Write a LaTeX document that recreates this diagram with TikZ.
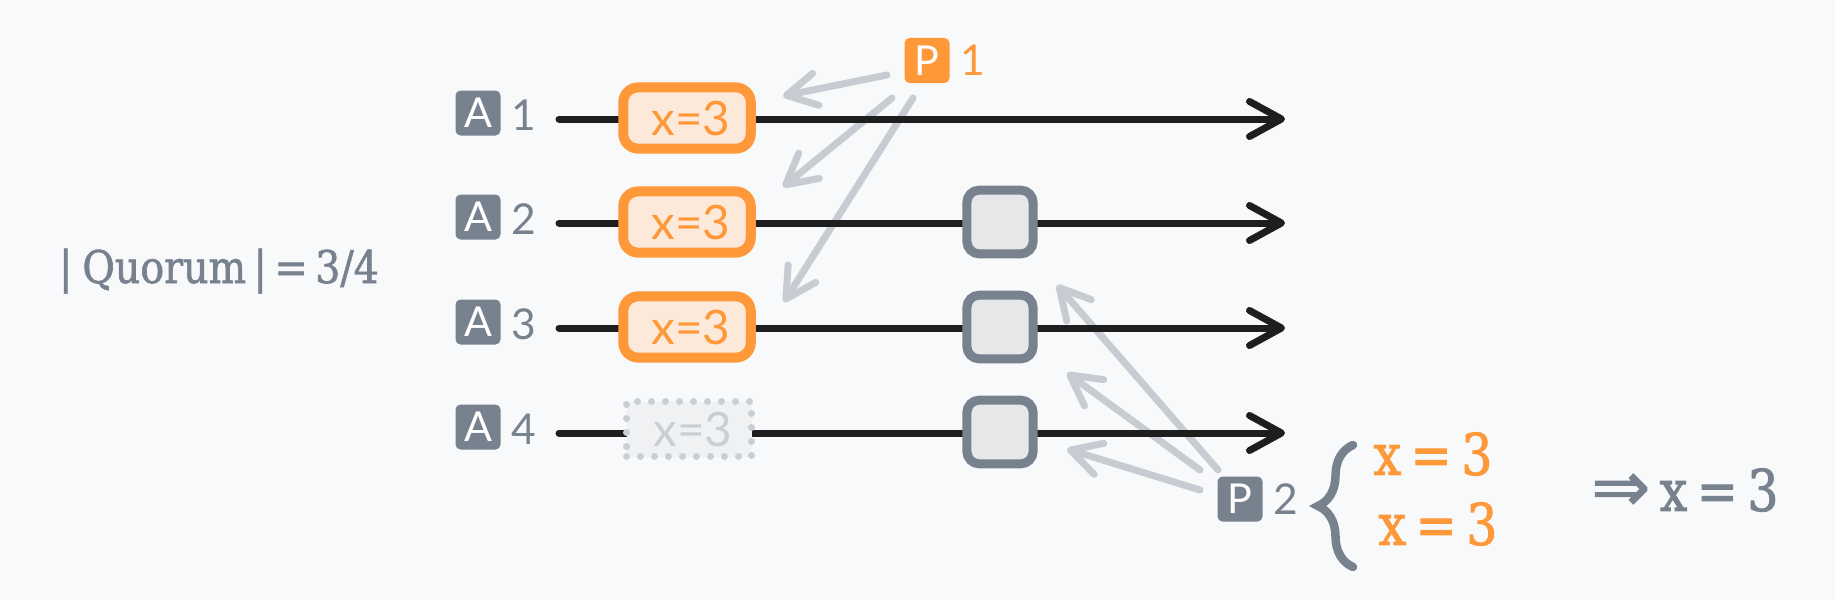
\documentclass[tikz,border=0pt]{standalone}
\usepackage{fontspec}
\setmainfont{Lato}
\newfontfamily\slabfont{DejaVu Serif}[FakeStretch=0.85,FakeBold=1.6]
\newfontfamily\quorumfont{DejaVu Serif}[FakeStretch=0.88,FakeBold=1.4]
\newfontfamily\symfont{DejaVu Sans}[FakeBold=1.6]
\usetikzlibrary{arrows.meta,positioning,decorations.pathreplacing}

\definecolor{bg}{HTML}{F8F9FA}
\definecolor{ink}{HTML}{1E1E1E}
\definecolor{slate}{HTML}{78828F}
\definecolor{orange}{HTML}{FF9838}
\definecolor{orangefill}{HTML}{FDE9D9}
\definecolor{msggray}{HTML}{C7CCD2}
\definecolor{promfill}{HTML}{E6E7E9}
\definecolor{ghostfill}{HTML}{F0F1F3}
\definecolor{dotgray}{HTML}{C9CED4}

\tikzset{
  badge/.style={rounded corners=2pt, minimum width=18pt, minimum height=18pt,
    inner sep=0pt, text=white, font=\fontsize{16.5}{16.5}\selectfont},
  num/.style={inner sep=0pt, text=slate, font=\fontsize{17}{17}\selectfont},
  timeline/.style={draw=ink, line width=2.8pt, line cap=round,
    -{Straight Barb[length=12.8pt,width=14pt,round]}},
  msg/.style={draw=msggray, line width=2.8pt, line cap=round,
    -{Straight Barb[length=12pt,width=13pt,round]}},
  acc/.style={draw=orange, fill=orangefill, line width=4pt, rounded corners=6pt,
    minimum width=51pt, minimum height=24.5pt, inner sep=0pt, text=orange,
    font=\fontsize{19}{19}\selectfont},
  ghost/.style={draw=dotgray, fill=ghostfill, line width=2.8pt, line cap=round,
    dash pattern=on 0pt off 5.6pt, minimum width=50pt, minimum height=22pt,
    inner sep=0pt, text=dotgray, font=\fontsize{19}{19}\selectfont},
  prom/.style={draw=slate, fill=promfill, line width=3.6pt, rounded corners=5pt,
    minimum width=26.5pt, minimum height=25.5pt, inner sep=0pt},
  res/.style={inner sep=0pt, font=\slabfont\fontsize{23}{23}\selectfont}
}

\begin{document}
\begin{tikzpicture}[x=0.4pt,y=-0.4pt]
\useasboundingbox (0,0) rectangle (1835,600);
\fill[bg] (0,0) rectangle (1835,600);

% proposers
\node[badge, fill=orange] (p1) at (927,60.5) {P};
\node[num, text=orange, right=4pt of p1] (p1n) {1};
\node[badge, fill=slate] (p2) at (1240,499) {P};
\node[num, right=4pt of p2] (p2n) {2};

% messages
\coordinate (m1s) at (887,75);  \coordinate (m1t) at (783,96);
\coordinate (m2s) at (892,98);  \coordinate (m2t) at (783,187);
\coordinate (m3s) at (913,98);  \coordinate (m3t) at (784,302);
\coordinate (n1s) at (1218,470); \coordinate (n1t) at (1057,285);
\coordinate (n2s) at (1200,470); \coordinate (n2t) at (1067,373);
\coordinate (n3s) at (1200,490); \coordinate (n3t) at (1067,449);
\draw[msg] (m1s) -- (m1t);
\draw[msg] (m2s) -- (m2t);
\draw[msg] (m3s) -- (m3t);
\draw[msg] (n1s) -- (n1t);
\draw[msg] (n2s) -- (n2t);
\draw[msg] (n3s) -- (n3t);

% acceptors
\foreach \i/\y in {1/119,2/223,3/328,4/433}{
  \node[badge, fill=slate] (a\i) at (478,\y-6) {A};
  \node[num, right=4pt of a\i, yshift=-1pt] (a\i n) {\i};
  \coordinate (s\i) at (559,\y);
  \coordinate (e\i) at (1285,\y);
  \draw[timeline] (s\i) -- (e\i);
}
\foreach \i/\y in {1/119,2/223,3/328}{
  \node[acc] (v\i) at (687,\y-1) {\hspace{3pt}x=3};
}
\node[ghost] (v4) at (689,429) {\hspace{3pt}x=3};
\foreach \i/\y in {2/223,3/328,4/433}{
  \node[prom] (w\i) at (1000,\y-1) {};
}

% quorum
\node[text=slate, inner sep=0pt, anchor=base,
  font=\quorumfont\fontsize{18}{18}\selectfont] (quorum) at (219,283) {|\hspace{4pt}Quorum\hspace{3pt}|\hspace{3pt}=\hspace{3pt}3/4};

% result
\coordinate (bb) at (1353,567);
\coordinate (bt) at (1353,445);
\draw[slate, line width=3.4pt, line cap=round,
  decorate, decoration={brace, amplitude=14pt}] (bb) -- (bt);
\node[res, text=orange] (r1) at (1433,454) {x\,=\,3};
\node[res, text=orange] (r2) at (1438,524) {x\,=\,3};
\node[res, text=slate] (fin) at (1685,490) {{\symfont\fontsize{28}{28}\selectfont ⇒}\,x\,=\,3};

\end{tikzpicture}
\end{document}
